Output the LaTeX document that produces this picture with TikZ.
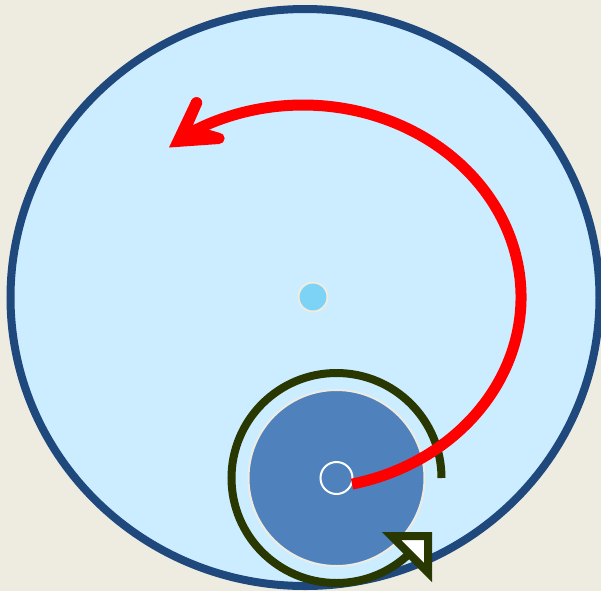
\documentclass[tikz,border=0pt]{standalone}
\definecolor{bgtan}{HTML}{EEECE1}
\definecolor{ringblue}{HTML}{1F497D}
\definecolor{skyfill}{HTML}{CCECFF}
\definecolor{dotblue}{HTML}{7DD3F5}
\definecolor{diskblue}{HTML}{4F81BD}
\definecolor{darkolive}{RGB}{40,56,0}
\definecolor{arrowred}{HTML}{FF0000}
\tikzset{
  ring/.style={draw=ringblue, line width=4pt, fill=skyfill},
  hub/.style={draw=bgtan, line width=1pt, fill=dotblue},
  disk/.style={draw=bgtan, line width=1pt, fill=diskblue},
  axle/.style={draw=white, line width=1pt},
  spin/.style={draw=darkolive, line width=4pt},
  spinhead/.style={draw=darkolive, line width=4pt, fill=white, line join=miter},
  orbit/.style={draw=arrowred, line width=5.5pt},
}
\begin{document}
\begin{tikzpicture}[x=0.5pt,y=-0.5pt]
\fill[bgtan] (0,0) rectangle (601,591);
\useasboundingbox (0,0) rectangle (601,591);
% coordinates
\coordinate (bigC) at (305,297.5);
\coordinate (hubC) at (313,297);
\coordinate (diskC) at (336.5,478);
\coordinate (spinStart) at (441.5,478);
\coordinate (orbitStart) at (352.04,484.08);
% big ring
\path[ring] (bigC) ellipse [x radius=294.5, y radius=288.5];
% central dot
\path[hub] (hubC) circle [radius=14.5];
% disk
\path[disk] (diskC) circle [radius=88];
\path[axle] (diskC) circle [radius=16];
% spin arrow
\path[spin] (spinStart) arc [start angle=0, end angle=-313.9, radius=105];
\path[spinhead] (391.5,536) -- (428,536) -- (428,572.5) -- cycle;
% orbit arrow
\path[orbit] (orbitStart) arc [start angle=77, end angle=-121, x radius=218, y radius=192];
\fill[arrowred] (169,147.5) -- (191.5,100) -- (201.5,105.5) -- (193,125) -- (219,132.7) -- (219,144) -- cycle;
\fill[arrowred] (196.5,102.75) circle [radius=5.7];
\fill[arrowred] (219,138.35) circle [radius=5.65];
\end{tikzpicture}
\end{document}
